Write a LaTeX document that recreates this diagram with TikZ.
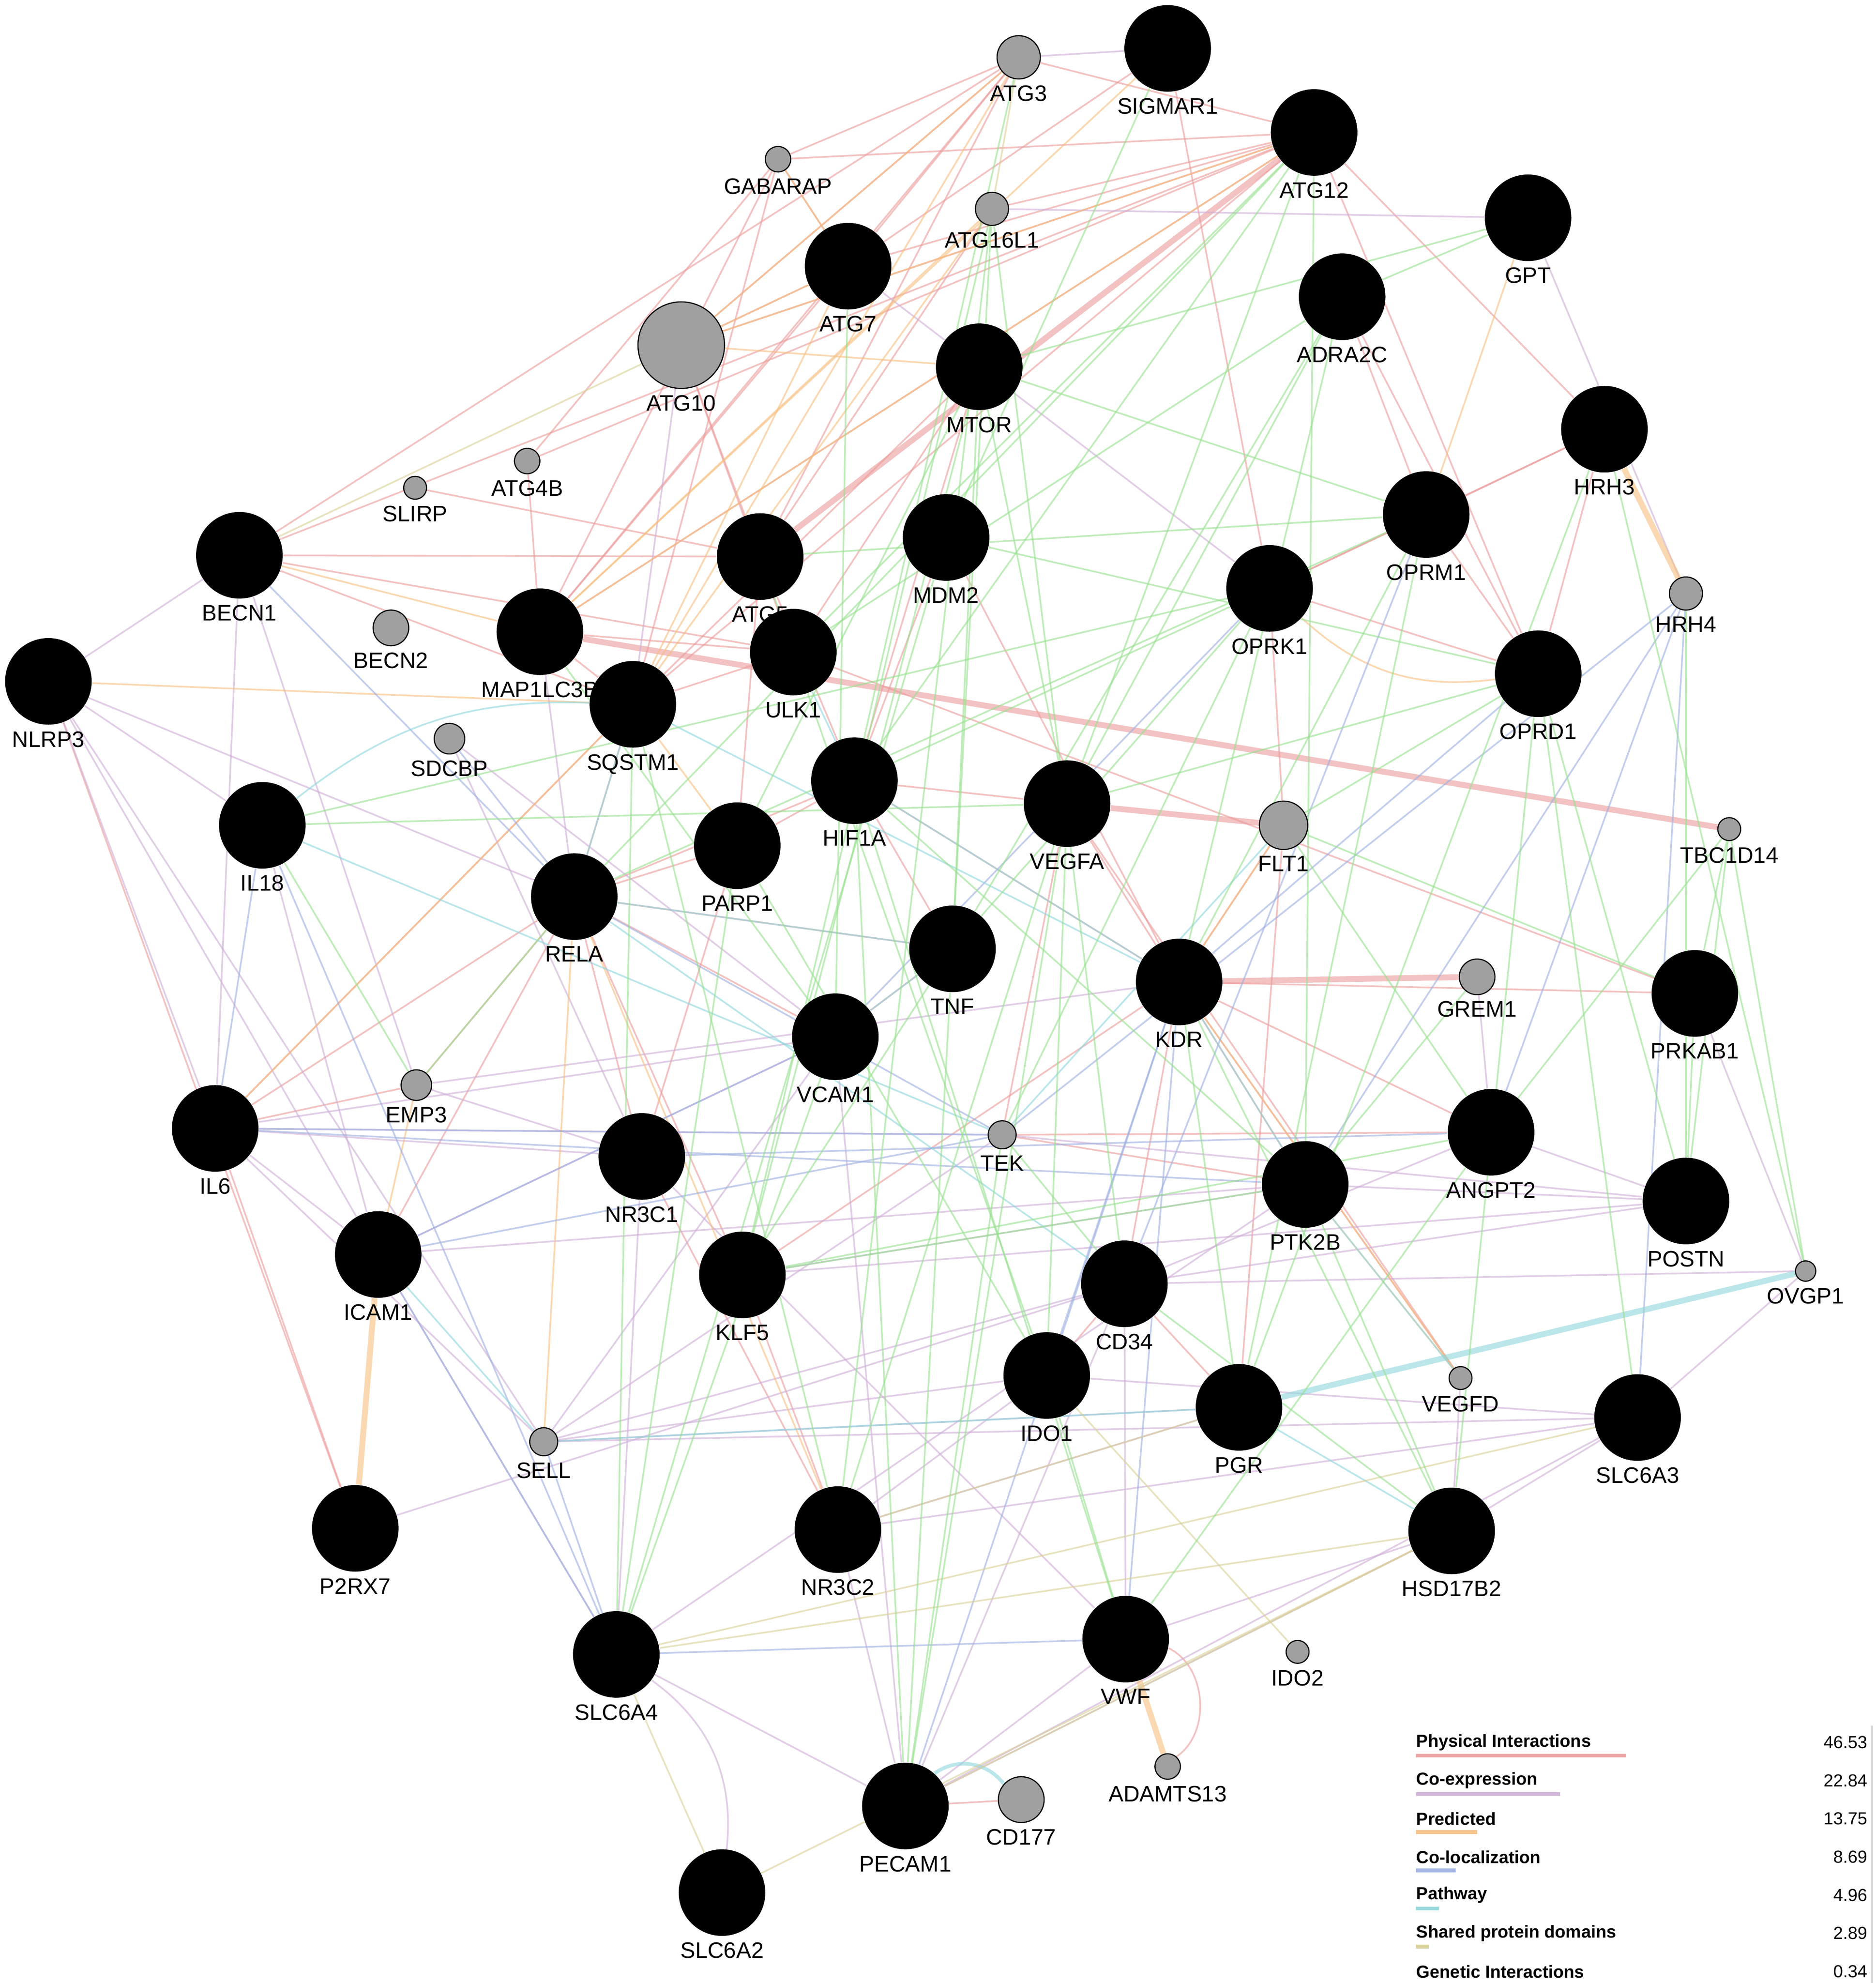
\documentclass[tikz,border=0pt]{standalone}
\usepackage{fontspec}
\setmainfont{Liberation Sans}
\usetikzlibrary{backgrounds}
\definecolor{cphys}{HTML}{EB9A9A}
\definecolor{ccoex}{HTML}{CDAED6}
\definecolor{cpred}{HTML}{F6BE7E}
\definecolor{ccol}{HTML}{9CAEE0}
\definecolor{cpath}{HTML}{8ED6DC}
\definecolor{cshr}{HTML}{D8D096}
\definecolor{cgen}{HTML}{96E08E}
\definecolor{ngray}{HTML}{A0A0A0}
\tikzset{
 ed/.style={line width=0.75pt,opacity=0.6},
 phys/.style={ed,draw=cphys}, coex/.style={ed,draw=ccoex}, pred/.style={ed,draw=cpred},
 col/.style={ed,draw=ccol}, pth/.style={ed,draw=cpath}, shr/.style={ed,draw=cshr}, gen/.style={ed,draw=cgen},
 thick2/.style={line width=2.6pt},
 lbl/.style={font=\fontsize{10}{12}\selectfont,inner sep=0pt,label distance=0.09cm},
 leg/.style={font=\fontsize{7.8}{9}\selectfont\bfseries,inner sep=0pt,anchor=west},
 legn/.style={font=\fontsize{7.8}{9}\selectfont,inner sep=0pt,anchor=east},
}
\newcommand\bn[4]{\node[circle,fill=black,inner sep=0pt,minimum size=68*0.02cm,label={[lbl]below:#4}] (#1) at (#2,#3) {};}
\newcommand\gn[5]{\node[circle,fill=ngray,draw=black,line width=0.5pt,inner sep=0pt,minimum size=#4*0.04cm,label={[lbl]below:#5}] (#1) at (#2,#3) {};}
\begin{document}
\begin{tikzpicture}[x=0.02cm,y=-0.02cm]
\useasboundingbox (0,0) rectangle (1473,1557);
\gn{ATG3}{800}{45}{17}{ATG3}
\bn{SIGMAR1}{917}{38}{SIGMAR1}
\bn{ATG12}{1032}{104}{ATG12}
\gn{GABARAP}{611}{125}{10}{GABARAP}
\gn{ATG16L1}{779}{164}{13}{ATG16L1}
\bn{GPT}{1200}{171}{GPT}
\bn{ATG7}{666}{209}{ATG7}
\gn{ATG10}{535}{271}{34}{ATG10}
\bn{ADRA2C}{1054}{233}{ADRA2C}
\bn{MTOR}{769}{288}{MTOR}
\bn{HRH3}{1260}{337}{HRH3}
\gn{SLIRP}{326}{383}{9}{SLIRP}
\gn{ATG4B}{414}{362}{10}{ATG4B}
\bn{OPRM1}{1120}{404}{OPRM1}
\bn{BECN1}{188}{436}{BECN1}
\bn{ATG5}{597}{437}{ATG5}
\bn{MDM2}{743}{422}{MDM2}
\gn{BECN2}{307}{493}{14}{BECN2}
\gn{HRH4}{1324}{466}{13}{HRH4}
\bn{OPRK1}{997}{462}{OPRK1}
\bn{MAP1LC3B}{424}{496}{MAP1LC3B}
\bn{ULK1}{623}{512}{ULK1}
\bn{OPRD1}{1208}{529}{OPRD1}
\bn{NLRP3}{38}{535}{NLRP3}
\bn{SQSTM1}{497}{553}{SQSTM1}
\gn{SDCBP}{353}{580}{12}{SDCBP}
\bn{HIF1A}{671}{613}{HIF1A}
\bn{VEGFA}{838}{631}{VEGFA}
\gn{FLT1}{1008}{648}{19}{FLT1}
\gn{TBC1D14}{1358}{651}{9}{TBC1D14}
\bn{IL18}{206}{648}{IL18}
\bn{PARP1}{579}{664}{PARP1}
\bn{RELA}{451}{704}{RELA}
\bn{TNF}{748}{745}{TNF}
\bn{KDR}{926}{771}{KDR}
\gn{GREM1}{1160}{767}{14}{GREM1}
\bn{PRKAB1}{1331}{780}{PRKAB1}
\bn{VCAM1}{656}{814}{VCAM1}
\gn{EMP3}{327}{852}{12}{EMP3}
\bn{IL6}{169}{886}{IL6}
\gn{TEK}{787}{891}{11}{TEK}
\bn{ANGPT2}{1171}{889}{ANGPT2}
\bn{NR3C1}{504}{908}{NR3C1}
\bn{PTK2B}{1025}{930}{PTK2B}
\bn{POSTN}{1324}{943}{POSTN}
\bn{ICAM1}{297}{985}{ICAM1}
\bn{KLF5}{583}{1001}{KLF5}
\bn{CD34}{883}{1008}{CD34}
\gn{OVGP1}{1418}{998}{8}{OVGP1}
\bn{IDO1}{822}{1080}{IDO1}
\gn{VEGFD}{1147}{1082}{9}{VEGFD}
\bn{PGR}{973}{1105}{PGR}
\bn{SLC6A3}{1286}{1113}{SLC6A3}
\gn{SELL}{427}{1132}{11}{SELL}
\bn{P2RX7}{279}{1200}{P2RX7}
\bn{NR3C2}{658}{1201}{NR3C2}
\bn{HSD17B2}{1140}{1202}{HSD17B2}
\bn{SLC6A4}{484}{1299}{SLC6A4}
\bn{VWF}{884}{1287}{VWF}
\gn{IDO2}{1019}{1297}{9}{IDO2}
\gn{ADAMTS13}{917}{1387}{10}{ADAMTS13}
\bn{PECAM1}{711}{1418}{PECAM1}
\gn{CD177}{802}{1413}{18}{CD177}
\bn{SLC6A2}{567}{1486}{SLC6A2}
\begin{scope}[on background layer]
\foreach \a/\b in {ATG12/ATG3,ATG12/ATG7,ATG12/ATG10,ATG12/ATG16L1,ATG12/GABARAP,ATG12/MAP1LC3B,ATG12/SQSTM1,ATG12/BECN1,ATG3/ATG7,ATG3/GABARAP,ATG3/MAP1LC3B,ATG3/ATG10,ATG3/BECN1,ATG7/GABARAP,ATG7/MAP1LC3B,ATG7/ATG10,ATG10/ATG5,ATG16L1/ATG5,GABARAP/SQSTM1,GABARAP/ATG4B,ATG4B/MAP1LC3B,BECN1/ATG5,BECN1/ULK1,MAP1LC3B/SQSTM1,MAP1LC3B/ULK1,SQSTM1/ULK1,MTOR/ULK1,MTOR/HIF1A,MTOR/SQSTM1,MDM2/HIF1A,MDM2/KDR,SIGMAR1/OPRK1,ATG12/OPRD1,ADRA2C/OPRM1,ADRA2C/OPRD1,HRH3/OPRK1,HRH3/OPRD1,HRH3/OPRM1,OPRK1/OPRD1,OPRM1/OPRD1,OPRK1/OPRM1,NLRP3/P2RX7,IL6/P2RX7,RELA/NR3C1,RELA/PARP1,RELA/HIF1A,RELA/IL6,RELA/ICAM1,RELA/VCAM1,RELA/TNF,RELA/SQSTM1,RELA/KLF5,PARP1/HIF1A,VEGFA/KDR,KDR/FLT1,KDR/PTK2B,KDR/CD34,KDR/ANGPT2,FLT1/PGR,TEK/ANGPT2,TEK/PTK2B,CD34/PGR,IDO1/CD34,NR3C1/NR3C2,KLF5/NR3C2,VEGFA/VEGFD,KDR/VEGFD,HIF1A/VEGFA,TNF/VCAM1,HIF1A/TNF,HIF1A/KDR,VEGFA/TEK,KLF5/KDR,PARP1/NR3C1,ULK1/PRKAB1,SIGMAR1/ATG7,ATG12/ATG4B,ATG3/ATG5,BECN1/SQSTM1,ATG5/HIF1A,SLIRP/ATG5,ATG10/ULK1,GABARAP/MAP1LC3B,KDR/PRKAB1,OPRK1/FLT1,IL6/EMP3,RELA/EMP3,PARP1/ATG5,SQSTM1/IL6,ATG12/HRH3}
 \draw[phys] (\a) -- (\b);
\draw[phys,thick2] (ATG12) -- (ATG5);
\draw[phys,thick2] (MAP1LC3B) -- (TBC1D14);
\draw[phys,thick2] (VEGFA) -- (FLT1);
\draw[phys,thick2] (KDR) -- (GREM1);
\draw[phys] (VWF) to[bend left=60] (ADAMTS13);
\draw[phys] (PECAM1) -- (CD177);
\foreach \a/\b in {NLRP3/IL18,NLRP3/IL6,NLRP3/ICAM1,NLRP3/SELL,NLRP3/RELA,IL18/ICAM1,IL6/ICAM1,IL6/SELL,IL6/VCAM1,IL6/NR3C1,IL6/TEK,ICAM1/VCAM1,ICAM1/PTK2B,ICAM1/SLC6A4,SELL/PGR,SELL/SLC6A3,SELL/CD34,VCAM1/SELL,VCAM1/PECAM1,VWF/PECAM1,VWF/CD34,VWF/HSD17B2,PECAM1/CD34,PECAM1/NR3C2,PECAM1/HSD17B2,PECAM1/SLC6A3,SLC6A4/PECAM1,SLC6A4/NR3C1,SLC6A4/PTK2B,NR3C2/PGR,NR3C2/SLC6A3,KLF5/PTK2B,KLF5/POSTN,CD34/POSTN,CD34/ANGPT2,ANGPT2/POSTN,TEK/POSTN,PTK2B/POSTN,OVGP1/SLC6A3,OVGP1/PRKAB1,HRH4/GPT,ATG16L1/GPT,SIGMAR1/ATG3,BECN1/EMP3,SDCBP/NR3C1,EMP3/NR3C1,EMP3/KDR,GREM1/ANGPT2,HSD17B2/SLC6A3,IDO1/NR3C2,IDO1/SELL,VEGFD/HSD17B2,NLRP3/BECN1,BECN1/IL6,SDCBP/VCAM1,P2RX7/CD34,ATG7/OPRK1,MAP1LC3B/RELA,OVGP1/CD34,ATG10/SQSTM1,SLC6A3/IDO1,NR3C1/VWF,TEK/SELL}
 \draw[coex] (\a) -- (\b);
\draw[coex] (SLC6A4) to[bend left=30] (SLC6A2);
\foreach \a/\b in {GPT/OPRM1,ATG10/ATG7,ATG16L1/MAP1LC3B,ATG3/SQSTM1,ATG12/MAP1LC3B,ATG7/SQSTM1,NLRP3/SQSTM1,ICAM1/EMP3,KDR/VEGFD,FLT1/KDR,SELL/RELA,IL6/SQSTM1,PARP1/SQSTM1,ATG12/ATG10,ATG3/ATG10,GABARAP/ATG7,BECN1/MAP1LC3B,ATG16L1/SQSTM1,PTK2B/VEGFD,RELA/NR3C2,MTOR/ATG10,SIGMAR1/MAP1LC3B}
 \draw[pred] (\a) -- (\b);
\draw[pred] (OPRK1) to[bend right=25] (OPRD1);
\draw[pred,thick2] (HRH3) -- (HRH4);
\draw[pred,thick2] (ICAM1) -- (P2RX7);
\draw[pred,thick2] (VWF) -- (ADAMTS13);
\foreach \a/\b in {IL18/IL6,IL6/PTK2B,IL6/TEK,ICAM1/VCAM1,ICAM1/SLC6A4,SELL/SLC6A4,NR3C1/ANGPT2,RELA/TEK,SLC6A4/VWF,TEK/ICAM1,HRH4/SLC6A3,HRH4/PTK2B,HRH4/ANGPT2,OPRD1/KDR,HRH4/TEK,OPRK1/VCAM1,IDO1/KDR,VWF/KDR,PECAM1/KDR,SDCBP/RELA,IL18/SLC6A4,OPRM1/CD34,BECN1/RELA}
 \draw[col] (\a) -- (\b);
\foreach \a/\b in {PGR/HSD17B2,SELL/PGR,RELA/TNF,RELA/CD34,VCAM1/TNF,ULK1/HIF1A,HIF1A/KDR,KDR/PTK2B,PTK2B/VEGFD,ICAM1/SELL,SQSTM1/RELA,FLT1/TEK,IL18/TEK,SQSTM1/KDR}
 \draw[pth] (\a) -- (\b);
\draw[pth,thick2] (OVGP1) -- (PGR);
\draw[pth,line width=1.6pt] (PECAM1) to[bend left=45] (CD177);
\draw[pth] (IL18) to[bend left=20] (SQSTM1);
\foreach \a/\b in {SLC6A4/SLC6A3,SLC6A4/SLC6A2,SLC6A2/HSD17B2,PECAM1/HSD17B2,NR3C2/PGR,IDO1/IDO2,SLC6A4/HSD17B2,ATG10/BECN1,ATG3/ATG16L1}
 \draw[shr] (\a) -- (\b);
\foreach \a/\b in {MTOR/KLF5,MTOR/VEGFA,MTOR/OPRM1,MTOR/TNF,ATG7/VCAM1,ATG16L1/NR3C2,ATG12/RELA,ATG12/HIF1A,ATG12/VEGFA,ATG12/PTK2B,ADRA2C/VEGFA,ADRA2C/KDR,ADRA2C/TNF,OPRK1/HIF1A,OPRK1/TNF,OPRK1/TEK,OPRM1/RELA,OPRM1/KDR,OPRM1/PGR,OPRD1/HSD17B2,OPRD1/SLC6A3,OPRD1/POSTN,OPRD1/VEGFA,OPRD1/MDM2,HRH3/OVGP1,HRH4/POSTN,TBC1D14/OVGP1,TBC1D14/PRKAB1,TBC1D14/POSTN,TBC1D14/ANGPT2,PRKAB1/POSTN,GPT/ADRA2C,GPT/MTOR,ATG16L1/TNF,ATG16L1/CD34,ULK1/IDO1,SQSTM1/NR3C2,SQSTM1/SLC6A4,PARP1/SLC6A4,HIF1A/PECAM1,HIF1A/VWF,VEGFA/IDO1,VEGFA/PECAM1,KDR/HSD17B2,KDR/PGR,TNF/PECAM1,TNF/KLF5,MDM2/SLC6A4,RELA/EMP3,EMP3/IL18,IL18/VEGFA,ATG5/ULK1,MAP1LC3B/VCAM1,KLF5/ANGPT2,CD34/HSD17B2,TEK/PECAM1,FLT1/ANGPT2,FLT1/PRKAB1,GREM1/PTK2B,SIGMAR1/MDM2,ATG3/HIF1A,ATG16L1/KLF5,ADRA2C/ULK1,OPRK1/IL18,HRH3/PGR,OPRM1/ATG5,TEK/CD34,PARP1/IDO1,KLF5/PTK2B,VCAM1/SLC6A4,HIF1A/PTK2B,ULK1/ATG12,MTOR/PARP1,VEGFA/NR3C2,IDO1/VWF,PTK2B/HSD17B2,ANGPT2/VWF,OPRD1/FLT1}
 \draw[gen] (\a) -- (\b);
\end{scope}
% legend
\foreach \y/\t/\n/\w/\c in {1368/Physical Interactions/46.53/165/cphys,1398/Co-expression/22.84/113/ccoex,1428/Predicted/13.75/48/cpred,1458/Co-localization/8.69/31/ccol,1488/Pathway/4.96/18/cpath,1518/Shared protein domains/2.89/10/cshr,1548/Genetic Interactions/0.34/1/cgen}{
 \node[leg] (L\n) at (1112,\y) {\t};
 \node[legn] (N\n) at (1467,\y) {\n};
 \fill[\c,opacity=0.9] (1112,\y+9) rectangle (1112+\w,\y+12);
}
\draw[black!15,line width=1pt] (1470,1355) -- (1470,1557);
\end{tikzpicture}
\end{document}
